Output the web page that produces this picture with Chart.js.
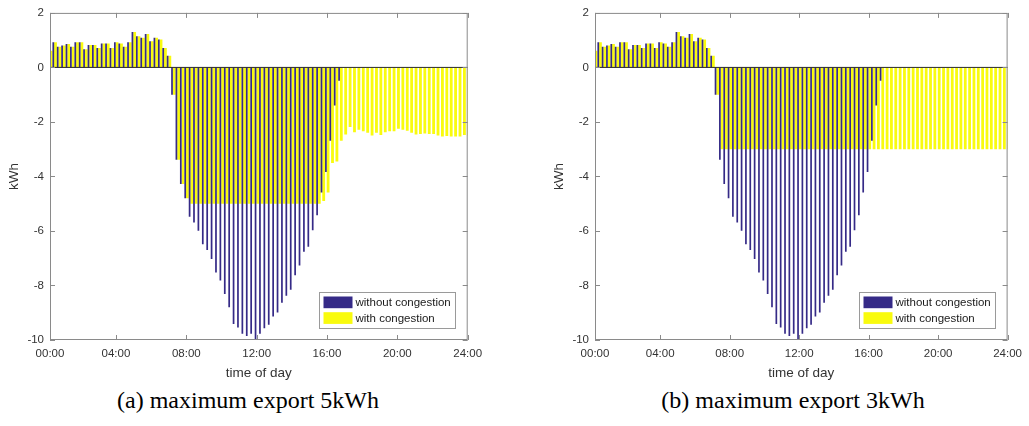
<!DOCTYPE html>
<html><head><meta charset="utf-8">
<script src="https://cdn.jsdelivr.net/npm/chart.js@4.4.0/dist/chart.umd.min.js"></script>
<style>
html,body{margin:0;padding:0;background:#fff;width:1029px;height:426px;overflow:hidden}
.panel{position:absolute;top:0;height:385px}
#pa{left:0;width:514px}
#pb{left:514px;width:515px}
.cap{position:absolute;top:388px;font-family:"Liberation Serif","Times New Roman",serif;font-size:24px;line-height:24px;color:#000;white-space:nowrap;transform:translateX(-50%)}
</style></head><body>
<div class="panel" id="pa"><canvas id="ca" width="514" height="385"></canvas></div>
<div class="panel" id="pb"><canvas id="cb" width="515" height="385"></canvas></div>
<div class="cap" style="left:248px">(a) maximum export 5kWh</div>
<div class="cap" style="left:793px">(b) maximum export 3kWh</div>
<script>
// 96 quarter-hour slots of the day, numbered 1..96
const slotCount = 96;
const tickSlots = [1, 16, 32, 48, 64, 80, 96];
const tickLabels = ['00:00', '04:00', '08:00', '12:00', '16:00', '20:00', '24:00'];
const seriesNames = ['without congestion', 'with congestion'];

// kWh per slot without congestion (same in both panels)
const withoutCongestion = [
  0.61, 0.92, 0.76, 0.80, 0.86, 0.76, 0.92, 0.92, 0.67, 0.82, 0.82, 0.71,
  0.88, 0.88, 0.71, 0.92, 0.88, 0.76, 0.92, 1.30, 1.14, 1.09, 1.23, 0.96,
  1.09, 1.02, 0.71, 0.43, -1.00, -3.39, -4.28, -4.80, -5.48, -5.69, -5.99, -6.49,
  -6.70, -7.03, -7.52, -7.82, -8.31, -8.80, -9.41, -9.54, -9.77, -9.85, -9.77, -9.97,
  -9.77, -9.57, -9.44, -9.14, -8.99, -8.63, -8.38, -8.16, -7.62, -7.27, -6.76, -6.58,
  -5.97, -5.42, -4.59, -3.84, -2.69, -1.40, -0.49, 0, 0, 0, 0, 0,
  0, 0, 0, 0, 0, 0, 0, 0, 0, 0, 0, 0,
  0, 0, 0, 0, 0, 0, 0, 0, 0, 0, 0, 0
];

// kWh per slot with congestion, maximum export 5 kWh
const withCongestion5 = [
  0.61, 0.92, 0.76, 0.80, 0.86, 0.76, 0.92, 0.92, 0.67, 0.82, 0.82, 0.71,
  0.88, 0.88, 0.71, 0.92, 0.88, 0.76, 0.92, 1.30, 1.14, 1.09, 1.23, 0.96,
  1.09, 1.02, 0.71, 0.43, -1.00, -3.39, -4.28, -4.80, -5, -5, -5, -5,
  -5, -5, -5, -5, -5, -5, -5, -5, -5, -5, -5, -5,
  -5, -5, -5, -5, -5, -5, -5, -5, -5, -5, -5, -5,
  -5, -5, -4.90, -4.59, -3.51, -3.45, -2.69, -2.46, -2.19, -2.38, -2.29, -2.34,
  -2.40, -2.50, -2.40, -2.48, -2.38, -2.34, -2.34, -2.25, -2.29, -2.32, -2.40, -2.46,
  -2.44, -2.42, -2.44, -2.44, -2.50, -2.53, -2.52, -2.53, -2.53, -2.53, -2.48, -2.50
];

// kWh per slot with congestion, maximum export 3 kWh
const withCongestion3 = [
  0.61, 0.92, 0.76, 0.80, 0.86, 0.76, 0.92, 0.92, 0.67, 0.82, 0.82, 0.71,
  0.88, 0.88, 0.71, 0.92, 0.88, 0.76, 0.92, 1.30, 1.14, 1.09, 1.23, 0.96,
  1.09, 1.02, 0.71, 0.43, -1.00, -3, -3, -3, -3, -3, -3, -3,
  -3, -3, -3, -3, -3, -3, -3, -3, -3, -3, -3, -3,
  -3, -3, -3, -3, -3, -3, -3, -3, -3, -3, -3, -3,
  -3, -3, -3, -3, -3, -3, -3, -3, -3, -3, -3, -3,
  -3, -3, -3, -3, -3, -3, -3, -3, -3, -3, -3, -3,
  -3, -3, -3, -3, -3, -3, -3, -3, -3, -3, -3, -3
];

const BLUE = '#352a87';
const YELLOW = '#f9fb0e';
const AXIS = '#8a8a8a';
const TEXT = '#333333';

Chart.defaults.font.family = '"Liberation Sans", Arial, sans-serif';
Chart.defaults.color = TEXT;

const toPoints = arr => arr.map((v, i) => ({ x: i + 1, y: v }));

const framePlugin = {
  id: 'frame',
  afterDatasetsDraw(chart) {
    const { ctx, chartArea: a, scales: { x, y } } = chart;
    ctx.save();
    // zero baseline
    const y0 = y.getPixelForValue(0);
    ctx.strokeStyle = '#2a2a2a';
    ctx.lineWidth = 1;
    ctx.beginPath(); ctx.moveTo(a.left, y0); ctx.lineTo(a.right, y0); ctx.stroke();
    // box
    ctx.strokeStyle = AXIS;
    ctx.strokeRect(a.left + 0.5, a.top + 0.5, a.right - a.left - 1, a.bottom - a.top - 1);
    // inward ticks
    ctx.beginPath();
    x.ticks.forEach(t => {
      const px = Math.round(x.getPixelForValue(t.value)) + 0.5;
      ctx.moveTo(px, a.bottom); ctx.lineTo(px, a.bottom - 5);
      ctx.moveTo(px, a.top); ctx.lineTo(px, a.top + 5);
    });
    y.ticks.forEach(t => {
      const py = Math.round(y.getPixelForValue(t.value)) + 0.5;
      ctx.moveTo(a.left, py); ctx.lineTo(a.left + 5, py);
      ctx.moveTo(a.right, py); ctx.lineTo(a.right - 5, py);
    });
    ctx.stroke();
    // legend box inside the axes, lower right
    const bw = 136, bh = 36;
    const bx = Math.round(a.right - 13 - bw) + 0.5;
    const by = Math.round(a.bottom - 12 - bh) + 0.5;
    ctx.fillStyle = '#ffffff';
    ctx.fillRect(bx, by, bw, bh);
    ctx.strokeStyle = '#9a9a9a';
    ctx.strokeRect(bx, by, bw, bh);
    const colors = [BLUE, YELLOW];
    ctx.font = '11.5px "Liberation Sans", Arial, sans-serif';
    ctx.textBaseline = 'middle';
    ctx.textAlign = 'left';
    chart.data.datasets.forEach((ds, i) => {
      const sy = by + 4 + i * 15.7;
      ctx.fillStyle = colors[i];
      ctx.fillRect(bx + 4, sy, 29, 11.7);
      ctx.fillStyle = '#1a1a1a';
      ctx.fillText(ds.label, bx + 36, sy + 6.2);
    });
    ctx.restore();
  }
};

function makeChart(canvasId, congestionSeries, padLeft, padRight) {
  return new Chart(document.getElementById(canvasId), {
    type: 'bar',
    data: {
      datasets: [
        { label: seriesNames[0], data: toPoints(withoutCongestion), backgroundColor: BLUE,
          categoryPercentage: 1, barPercentage: 0.78, clip: 0 },
        { label: seriesNames[1], data: toPoints(congestionSeries), backgroundColor: YELLOW,
          categoryPercentage: 1, barPercentage: 1.28, clip: 0 }
      ]
    },
    options: {
      responsive: false,
      devicePixelRatio: 1,
      animation: false,
      layout: { padding: { left: padLeft, right: padRight, top: 12, bottom: 0 } },
      plugins: { legend: { display: false }, tooltip: { enabled: false } },
      scales: {
        x: {
          type: 'linear', min: 1, max: slotCount, offset: false,
          grid: { display: false, drawTicks: false },
          border: { display: false },
          afterBuildTicks: s => { s.ticks = tickSlots.map(v => ({ value: v })); },
          afterFit: s => { s.height = 45; },
          ticks: {
            autoSkip: false, maxRotation: 0, padding: 7,
            font: { size: 11.5 }, color: TEXT,
            callback: v => tickLabels[tickSlots.indexOf(v)]
          },
          title: { display: true, text: 'time of day', font: { size: 13.5 }, color: TEXT,
                   padding: { top: 4, bottom: 4 } }
        },
        y: {
          min: -10, max: 2,
          grid: { display: false, drawTicks: false },
          border: { display: false },
          afterFit: s => { s.width = 50; },
          ticks: { stepSize: 2, padding: 6, font: { size: 11.5 }, color: TEXT },
          title: { display: true, text: 'kWh', font: { size: 13.5 }, color: TEXT,
                   padding: { top: 6, bottom: 4 } }
        }
      }
    },
    plugins: [framePlugin]
  });
}

makeChart('ca', withCongestion5, 0, 46.3);
makeChart('cb', withCongestion3, 31, 16.3);
</script>
</body></html>
